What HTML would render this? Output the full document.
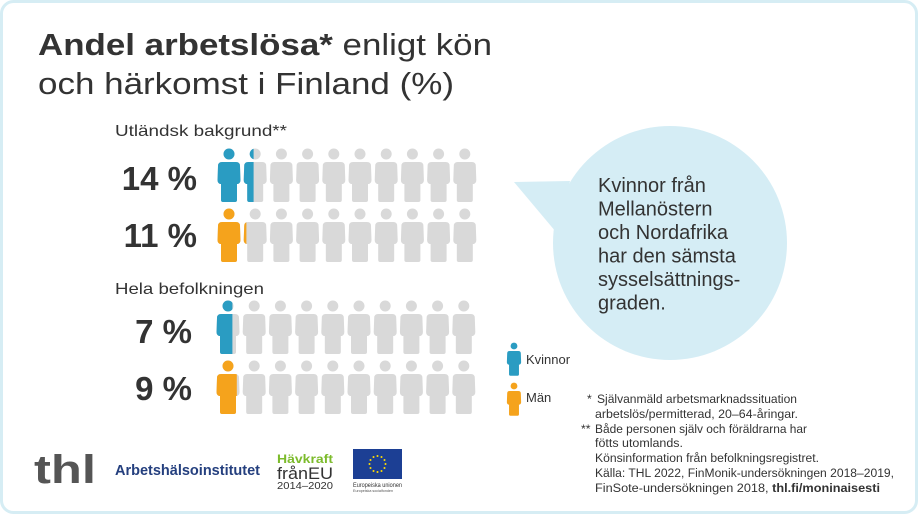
<!DOCTYPE html>
<html><head><meta charset="utf-8"><style>
html,body{margin:0;padding:0;background:#fff;}
svg{display:block;}
text{font-family:"Liberation Sans",sans-serif;fill:#333;}
</style></head><body>
<svg width="920" height="517" viewBox="0 0 920 517" xmlns="http://www.w3.org/2000/svg">
<defs>
<path id="body" d="M-7,0 H7 Q11,0 11,4 L11.5,18 Q11.5,21 9,22 L8,22 V38 Q8,40 6,40 H-6 Q-8,40 -8,38 V22 L-9,22 Q-11.5,21 -11.5,18 L-11,4 Q-11,0 -7,0 Z"/>
<g id="fig"><circle cx="0" cy="0" r="5.5"/><use href="#body" y="8"/></g>
<clipPath id="c1"><rect x="-20" y="-10" width="18.4" height="60"/></clipPath>
<clipPath id="c2"><rect x="-20" y="-10" width="11.2" height="60"/></clipPath>
<clipPath id="c3"><rect x="-20" y="-10" width="24.4" height="60"/></clipPath>
<clipPath id="c4"><rect x="-20" y="-10" width="28.8" height="60"/></clipPath>
</defs>
<rect x="1.5" y="1.5" width="915" height="511" rx="12" fill="#fff" stroke="#d6edf4" stroke-width="3"/>

<text x="38" y="55" font-size="31" textLength="454" lengthAdjust="spacingAndGlyphs"><tspan font-weight="bold">Andel arbetslösa*</tspan> enligt kön</text>
<text x="38" y="94" font-size="31" textLength="416" lengthAdjust="spacingAndGlyphs">och härkomst i Finland (%)</text>

<text x="115" y="136" font-size="16" textLength="172" lengthAdjust="spacingAndGlyphs">Utländsk bakgrund**</text>
<text x="115" y="294" font-size="16" textLength="149" lengthAdjust="spacingAndGlyphs">Hela befolkningen</text>

<g font-weight="bold" font-size="33" text-anchor="end">
<text x="197" y="190">14 %</text>
<text x="197" y="247">11 %</text>
<text x="192" y="343">7 %</text>
<text x="192" y="400">9 %</text>
</g>

<g fill="#d9d9d9">
<g transform="translate(0,154)">
<use href="#fig" x="229"/><use href="#fig" x="255.2"/><use href="#fig" x="281.4"/><use href="#fig" x="307.6"/><use href="#fig" x="333.8"/><use href="#fig" x="360"/><use href="#fig" x="386.2"/><use href="#fig" x="412.4"/><use href="#fig" x="438.6"/><use href="#fig" x="464.8"/>
</g>
<g transform="translate(0,214)">
<use href="#fig" x="229"/><use href="#fig" x="255.2"/><use href="#fig" x="281.4"/><use href="#fig" x="307.6"/><use href="#fig" x="333.8"/><use href="#fig" x="360"/><use href="#fig" x="386.2"/><use href="#fig" x="412.4"/><use href="#fig" x="438.6"/><use href="#fig" x="464.8"/>
</g>
<g transform="translate(0,306)">
<use href="#fig" x="228"/><use href="#fig" x="254.2"/><use href="#fig" x="280.4"/><use href="#fig" x="306.6"/><use href="#fig" x="332.8"/><use href="#fig" x="359"/><use href="#fig" x="385.2"/><use href="#fig" x="411.4"/><use href="#fig" x="437.6"/><use href="#fig" x="463.8"/>
</g>
<g transform="translate(0,366)">
<use href="#fig" x="228"/><use href="#fig" x="254.2"/><use href="#fig" x="280.4"/><use href="#fig" x="306.6"/><use href="#fig" x="332.8"/><use href="#fig" x="359"/><use href="#fig" x="385.2"/><use href="#fig" x="411.4"/><use href="#fig" x="437.6"/><use href="#fig" x="463.8"/>
</g>
</g>
<g fill="#2a9cc2">
<use href="#fig" x="229" y="154"/>
<g transform="translate(255.2,154)" clip-path="url(#c1)"><use href="#fig"/></g>
<g transform="translate(228,306)" clip-path="url(#c3)"><use href="#fig"/></g>
</g>
<g fill="#f5a31c">
<use href="#fig" x="229" y="214"/>
<g transform="translate(255.2,214)" clip-path="url(#c2)"><use href="#fig"/></g>
<g transform="translate(228,366)" clip-path="url(#c4)"><use href="#fig"/></g>
</g>

<g fill="#d5edf5">
<circle cx="670" cy="243" r="117"/>
<polygon points="514,182 570,181 556,232"/>
</g>
<g font-size="20">
<text x="598" y="192">Kvinnor från</text>
<text x="598" y="215.5">Mellanöstern</text>
<text x="598" y="239">och Nordafrika</text>
<text x="598" y="262.5">har den sämsta</text>
<text x="598" y="286">sysselsättnings-</text>
<text x="598" y="309.5">graden.</text>
</g>

<g transform="translate(514,346) scale(0.62)" fill="#2a9cc2"><use href="#fig"/></g>
<g transform="translate(514,386) scale(0.62)" fill="#f5a31c"><use href="#fig"/></g>
<text x="526" y="364" font-size="13">Kvinnor</text>
<text x="526" y="402" font-size="13">Män</text>

<g font-size="12.3" fill="#444">
<text x="587" y="403">*</text>
<text x="597" y="403" textLength="200" lengthAdjust="spacingAndGlyphs">Självanmäld arbetsmarknadssituation</text>
<text x="595" y="418" textLength="203" lengthAdjust="spacingAndGlyphs">arbetslös/permitterad, 20–64-åringar.</text>
<text x="581" y="433">**</text>
<text x="595" y="433" textLength="212" lengthAdjust="spacingAndGlyphs">Både personen själv och föräldrarna har</text>
<text x="595" y="447" textLength="88" lengthAdjust="spacingAndGlyphs">fötts utomlands.</text>
<text x="595" y="462" textLength="224" lengthAdjust="spacingAndGlyphs">Könsinformation från befolkningsregistret.</text>
<text x="595" y="477" textLength="299" lengthAdjust="spacingAndGlyphs">Källa: THL 2022, FinMonik-undersökningen 2018–2019,</text>
<text x="595" y="492" textLength="285" lengthAdjust="spacingAndGlyphs">FinSote-undersökningen 2018, <tspan font-weight="bold">thl.fi/moninaisesti</tspan></text>
</g>

<text x="34" y="483" font-size="40" font-weight="bold" style="fill:#555" textLength="62" lengthAdjust="spacingAndGlyphs">thl</text>
<text x="115" y="475" font-size="15" font-weight="bold" style="fill:#243f7e" textLength="145" lengthAdjust="spacingAndGlyphs">Arbetshälsoinstitutet</text>
<text x="277" y="463" font-size="11.5" font-weight="bold" style="fill:#7cbb2b" textLength="56" lengthAdjust="spacingAndGlyphs">Hävkraft</text>
<text x="277" y="479" font-size="17" style="fill:#333" textLength="56" lengthAdjust="spacingAndGlyphs">frånEU</text>
<text x="277" y="489" font-size="10" style="fill:#333" textLength="56" lengthAdjust="spacingAndGlyphs">2014–2020</text>
<rect x="353" y="449" width="49" height="30" fill="#1c3f94"/>
<g fill="#ffdd00">
<circle cx="377.5" cy="456" r="1"/><circle cx="381.5" cy="457" r="1"/><circle cx="384.5" cy="460" r="1"/><circle cx="385.5" cy="464" r="1"/><circle cx="384.5" cy="468" r="1"/><circle cx="381.5" cy="471" r="1"/><circle cx="377.5" cy="472" r="1"/><circle cx="373.5" cy="471" r="1"/><circle cx="370.5" cy="468" r="1"/><circle cx="369.5" cy="464" r="1"/><circle cx="370.5" cy="460" r="1"/><circle cx="373.5" cy="457" r="1"/>
</g>
<text x="353" y="487" font-size="6" style="fill:#333" textLength="49" lengthAdjust="spacingAndGlyphs">Europeiska unionen</text>
<text x="353" y="492" font-size="4" style="fill:#555" textLength="40" lengthAdjust="spacingAndGlyphs">Europeiska socialfonden</text>
</svg>
</body></html>
